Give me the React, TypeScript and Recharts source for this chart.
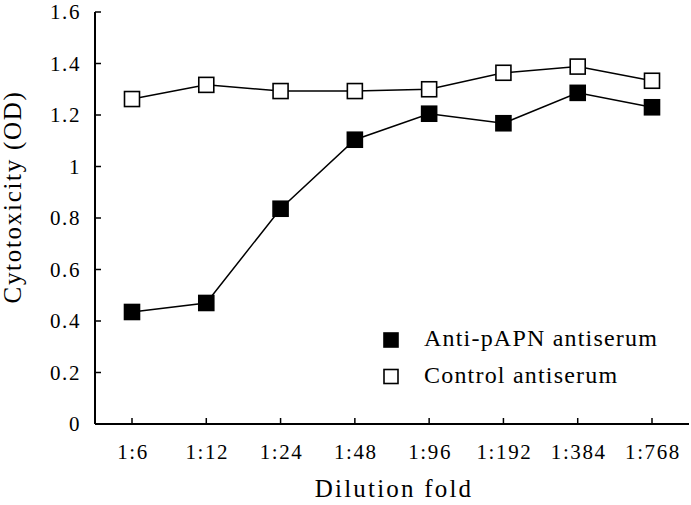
import React from 'react';
import { LineChart, Line, XAxis, YAxis, Customized, Label } from 'recharts';

const categories = ['1:6', '1:12', '1:24', '1:48', '1:96', '1:192', '1:384', '1:768'];
const antiValues = [0.435, 0.47, 0.836, 1.104, 1.205, 1.168, 1.286, 1.23];
const controlValues = [1.262, 1.317, 1.293, 1.293, 1.3, 1.364, 1.388, 1.333];
const yTicks = [0, 0.2, 0.4, 0.6, 0.8, 1, 1.2, 1.4, 1.6];
const seriesNames = ['Anti-pAPN antiserum', 'Control antiserum'];

const data = categories.map((c, i) => ({ cat: c, anti: antiValues[i], control: controlValues[i] }));

const FONT = '"Liberation Serif", "Times New Roman", serif';

const SquareDot = (fill: string) => (props: any) => {
  const { cx, cy } = props;
  if (cx == null || cy == null) return null;
  return <rect x={cx - 7.5} y={cy - 7.5} width={15} height={15} fill={fill} stroke="#000" strokeWidth={1.6} />;
};

const XTick = (props: any) => {
  const { x, y, payload } = props;
  return (
    <g>
      <line x1={x} y1={y} x2={x} y2={y - 6} stroke="#000" strokeWidth={1.5} />
      <text x={x + 1} y={y + 35} textAnchor="middle" fontFamily={FONT} fontSize={21} letterSpacing={1.6} fill="#000">
        {payload.value}
      </text>
    </g>
  );
};

const YTick = (props: any) => {
  const { x, y, payload } = props;
  return (
    <g>
      <line x1={x} y1={y} x2={x + 6} y2={y} stroke="#000" strokeWidth={1.5} />
      <text x={x - 14} y={y + 7} textAnchor="end" fontFamily={FONT} fontSize={21} letterSpacing={1.6} fill="#000">
        {String(payload.value)}
      </text>
    </g>
  );
};

const LegendBlock = () => {
  const fills = ['#000', '#fff'];
  return (
    <g>
      {seriesNames.map((n, i) => (
        <g key={n}>
          <rect x={384} y={333 + i * 36.5} width={14} height={14} fill={fills[i]} stroke="#000" strokeWidth={1.6} />
          <text x={424} y={346 + i * 37} fontFamily={FONT} fontSize={24} letterSpacing={1.2} fill="#000">
            {n}
          </text>
        </g>
      ))}
    </g>
  );
};

export default function App() {
  return (
    <div style={{ position: 'absolute', left: 0, top: 0, width: 691, height: 505, background: '#fff' }}>
      <LineChart width={691} height={505} data={data} margin={{ top: 12, right: 2, left: 0, bottom: 0 }}>
        <XAxis
          dataKey="cat"
          height={81}
          tickSize={0}
          tickMargin={0}
          tick={<XTick />}
          axisLine={{ stroke: '#000', strokeWidth: 2 }}
          interval={0}
          padding={{ left: 37, right: 37 }}
        >
          <Label
            content={(p: any) => {
              const vb = p.viewBox;
              return (
                <text x={vb.x + vb.width / 2 + 2} y={vb.y + 73} textAnchor="middle" fontFamily={FONT} fontSize={25} letterSpacing={2.2} fill="#000">
                  Dilution fold
                </text>
              );
            }}
          />
        </XAxis>
        <YAxis
          width={95}
          domain={[0, 1.6]}
          ticks={yTicks}
          tickSize={0}
          tickMargin={0}
          tick={<YTick />}
          axisLine={{ stroke: '#000', strokeWidth: 2 }}
          interval={0}
        >
          <Label
            content={() => (
              <text x={21} y={197} transform="rotate(-90 21 197)" textAnchor="middle" fontFamily={FONT} fontSize={25} letterSpacing={1.7} fill="#000">
                Cytotoxicity (OD)
              </text>
            )}
          />
        </YAxis>
        <Line
          dataKey="anti"
          name={seriesNames[0]}
          stroke="#000"
          strokeWidth={1.5}
          dot={SquareDot('#000')}
          isAnimationActive={false}
        />
        <Line
          dataKey="control"
          name={seriesNames[1]}
          stroke="#000"
          strokeWidth={1.5}
          dot={SquareDot('#fff')}
          isAnimationActive={false}
        />
        <Customized component={LegendBlock} />
      </LineChart>
    </div>
  );
}
